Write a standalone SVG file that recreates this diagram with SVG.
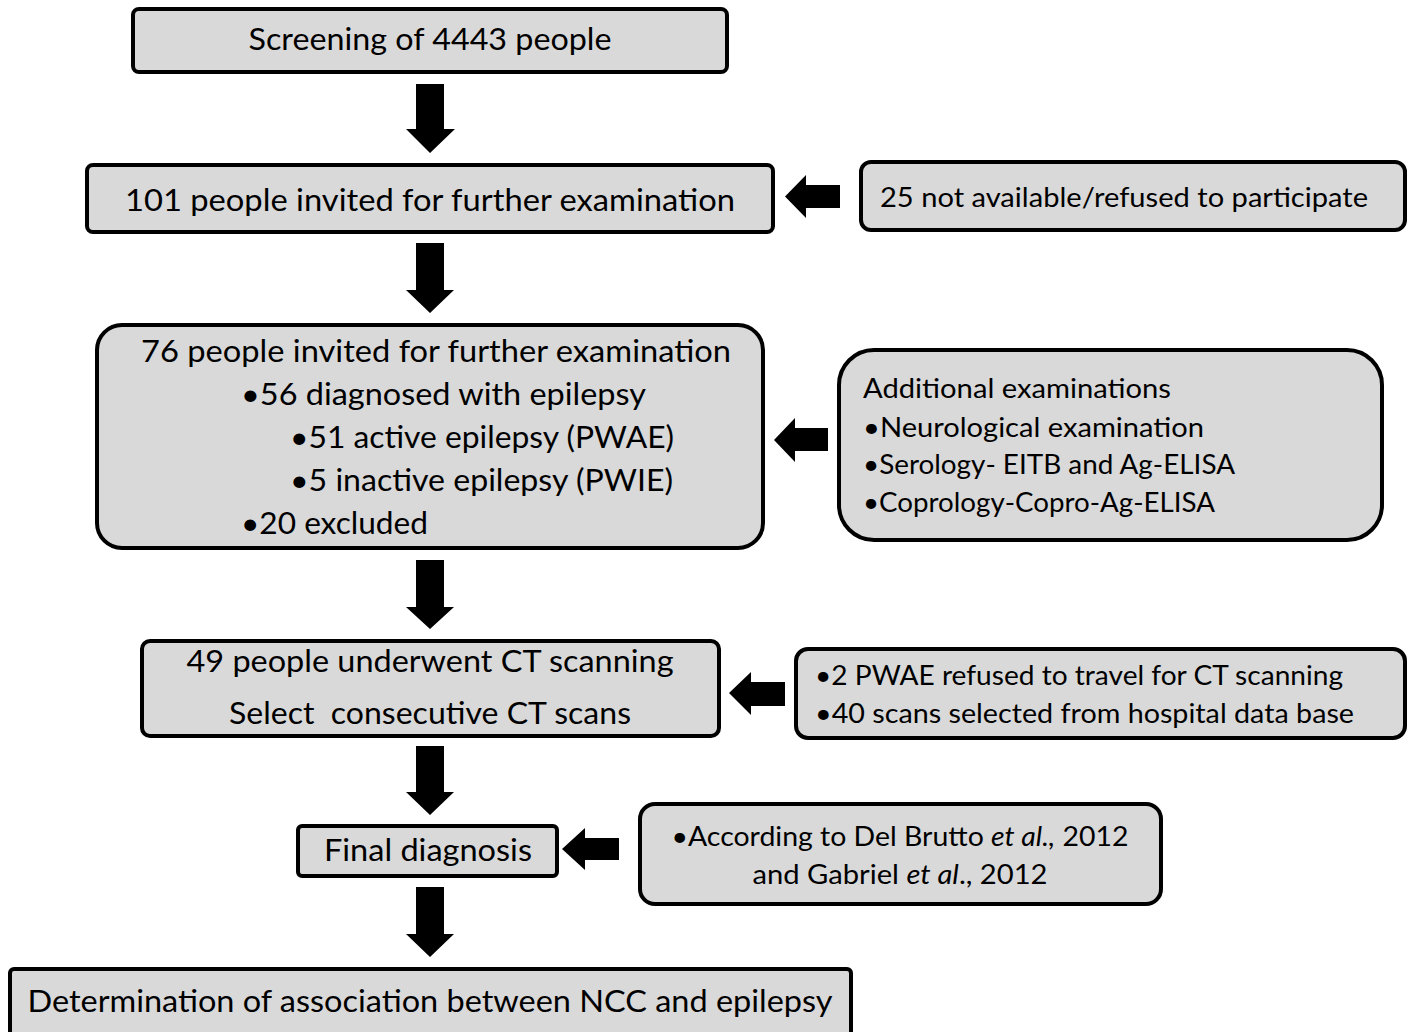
<svg xmlns="http://www.w3.org/2000/svg" width="1411" height="1032" viewBox="0 0 1411 1032">
<style>
.box{fill:#d9d9d9;stroke:#000;stroke-width:4}
.t{font-family:Lato,"Liberation Sans",sans-serif;fill:#000}
.l{font-size:30px}
.m{font-size:27px}
.c{text-anchor:middle}
.arr{fill:#000}
</style>
<rect width="1411" height="1032" fill="#fff"/>
<g id="n1"><rect class="box" x="133" y="9" width="594" height="63" rx="6"/>
<text class="t l c" x="430" y="50" textLength="363" lengthAdjust="spacingAndGlyphs">Screening of 4443 people</text></g>
<g id="n2"><rect class="box" x="87" y="165" width="686" height="67" rx="6"/>
<text class="t l c" x="430" y="211" textLength="610" lengthAdjust="spacingAndGlyphs">101 people invited for further examination</text></g>
<g id="n3"><rect class="box" x="861" y="162" width="544" height="68" rx="10"/>
<text class="t m" x="880" y="207" textLength="488" lengthAdjust="spacingAndGlyphs">25 not available/refused to participate</text></g>
<g id="n4"><rect class="box" x="97" y="325" width="666" height="223" rx="25"/>
<text class="t l" x="141" y="362" textLength="590" lengthAdjust="spacingAndGlyphs">76 people invited for further examination</text>
<text class="t l" x="241" y="405" textLength="405" lengthAdjust="spacingAndGlyphs">•56 diagnosed with epilepsy</text>
<text class="t l" x="290" y="448" textLength="384" lengthAdjust="spacingAndGlyphs">•51 active epilepsy (PWAE)</text>
<text class="t l" x="290" y="491" textLength="383" lengthAdjust="spacingAndGlyphs">•5 inactive epilepsy (PWIE)</text>
<text class="t l" x="241" y="534" textLength="187" lengthAdjust="spacingAndGlyphs">•20 excluded</text></g>
<g id="n5"><rect class="box" x="839" y="350" width="543" height="190" rx="35"/>
<text class="t m" x="863" y="398" textLength="308" lengthAdjust="spacingAndGlyphs">Additional examinations</text>
<text class="t m" x="863" y="437" textLength="341" lengthAdjust="spacingAndGlyphs">•Neurological examination</text>
<text class="t m" x="863" y="474" textLength="372" lengthAdjust="spacingAndGlyphs">•Serology- EITB and Ag-ELISA</text>
<text class="t m" x="863" y="512" textLength="352" lengthAdjust="spacingAndGlyphs">•Coprology-Copro-Ag-ELISA</text></g>
<g id="n6"><rect class="box" x="142" y="641" width="577" height="95" rx="8"/>
<text class="t l c" x="430" y="672" textLength="487" lengthAdjust="spacingAndGlyphs">49 people underwent CT scanning</text>
<text class="t l c" x="430" y="724" textLength="402" lengthAdjust="spacingAndGlyphs" xml:space="preserve">Select  consecutive CT scans</text></g>
<g id="n7"><rect class="box" x="796" y="649" width="609" height="89" rx="12"/>
<text class="t m" x="815" y="685" textLength="528" lengthAdjust="spacingAndGlyphs">•2 PWAE refused to travel for CT scanning</text>
<text class="t m" x="815" y="723" textLength="539" lengthAdjust="spacingAndGlyphs">•40 scans selected from hospital data base</text></g>
<g id="n8"><rect class="box" x="298" y="826" width="259" height="50" rx="4"/>
<text class="t l c" x="428" y="861" textLength="208" lengthAdjust="spacingAndGlyphs">Final diagnosis</text></g>
<g id="n9"><rect class="box" x="640" y="804" width="521" height="100" rx="15"/>
<text class="t m c" x="900" y="846" textLength="457" lengthAdjust="spacingAndGlyphs">•According to Del Brutto <tspan font-style="italic">et al.,</tspan> 2012</text>
<text class="t m c" x="900" y="884" textLength="295" lengthAdjust="spacingAndGlyphs">and Gabriel <tspan font-style="italic">et al</tspan>., 2012</text></g>
<g id="n10"><rect class="box" x="10" y="969" width="841" height="75" rx="4"/>
<text class="t l c" x="430" y="1012" textLength="805" lengthAdjust="spacingAndGlyphs">Determination of association between NCC and epilepsy</text></g>
<g id="connectors">
<polygon class="arr" points="416,84 444,84 444,129 455,129 430,153 406,129 416,129"/>
<polygon class="arr" points="416,243 444,243 444,290 454,290 430,313 406,290 416,290"/>
<polygon class="arr" points="416,560 444,560 444,607 454,607 430,629 406,607 416,607"/>
<polygon class="arr" points="416,746 444,746 444,792 454,792 430,815 406,792 416,792"/>
<polygon class="arr" points="416,887 444,887 444,934 454,934 430,957 406,934 416,934"/>
<polygon class="arr" points="840,185 806,185 806,175 785,196.5 806,218 806,208 840,208"/>
<polygon class="arr" points="828,428 795,428 795,418 774,440 795,462 795,451 828,451"/>
<polygon class="arr" points="785,682 751,682 751,672 729,693 751,715 751,706 785,706"/>
<polygon class="arr" points="619,838 585,838 585,828 562,849 585,870 585,860 619,860"/>
</g>
</svg>
